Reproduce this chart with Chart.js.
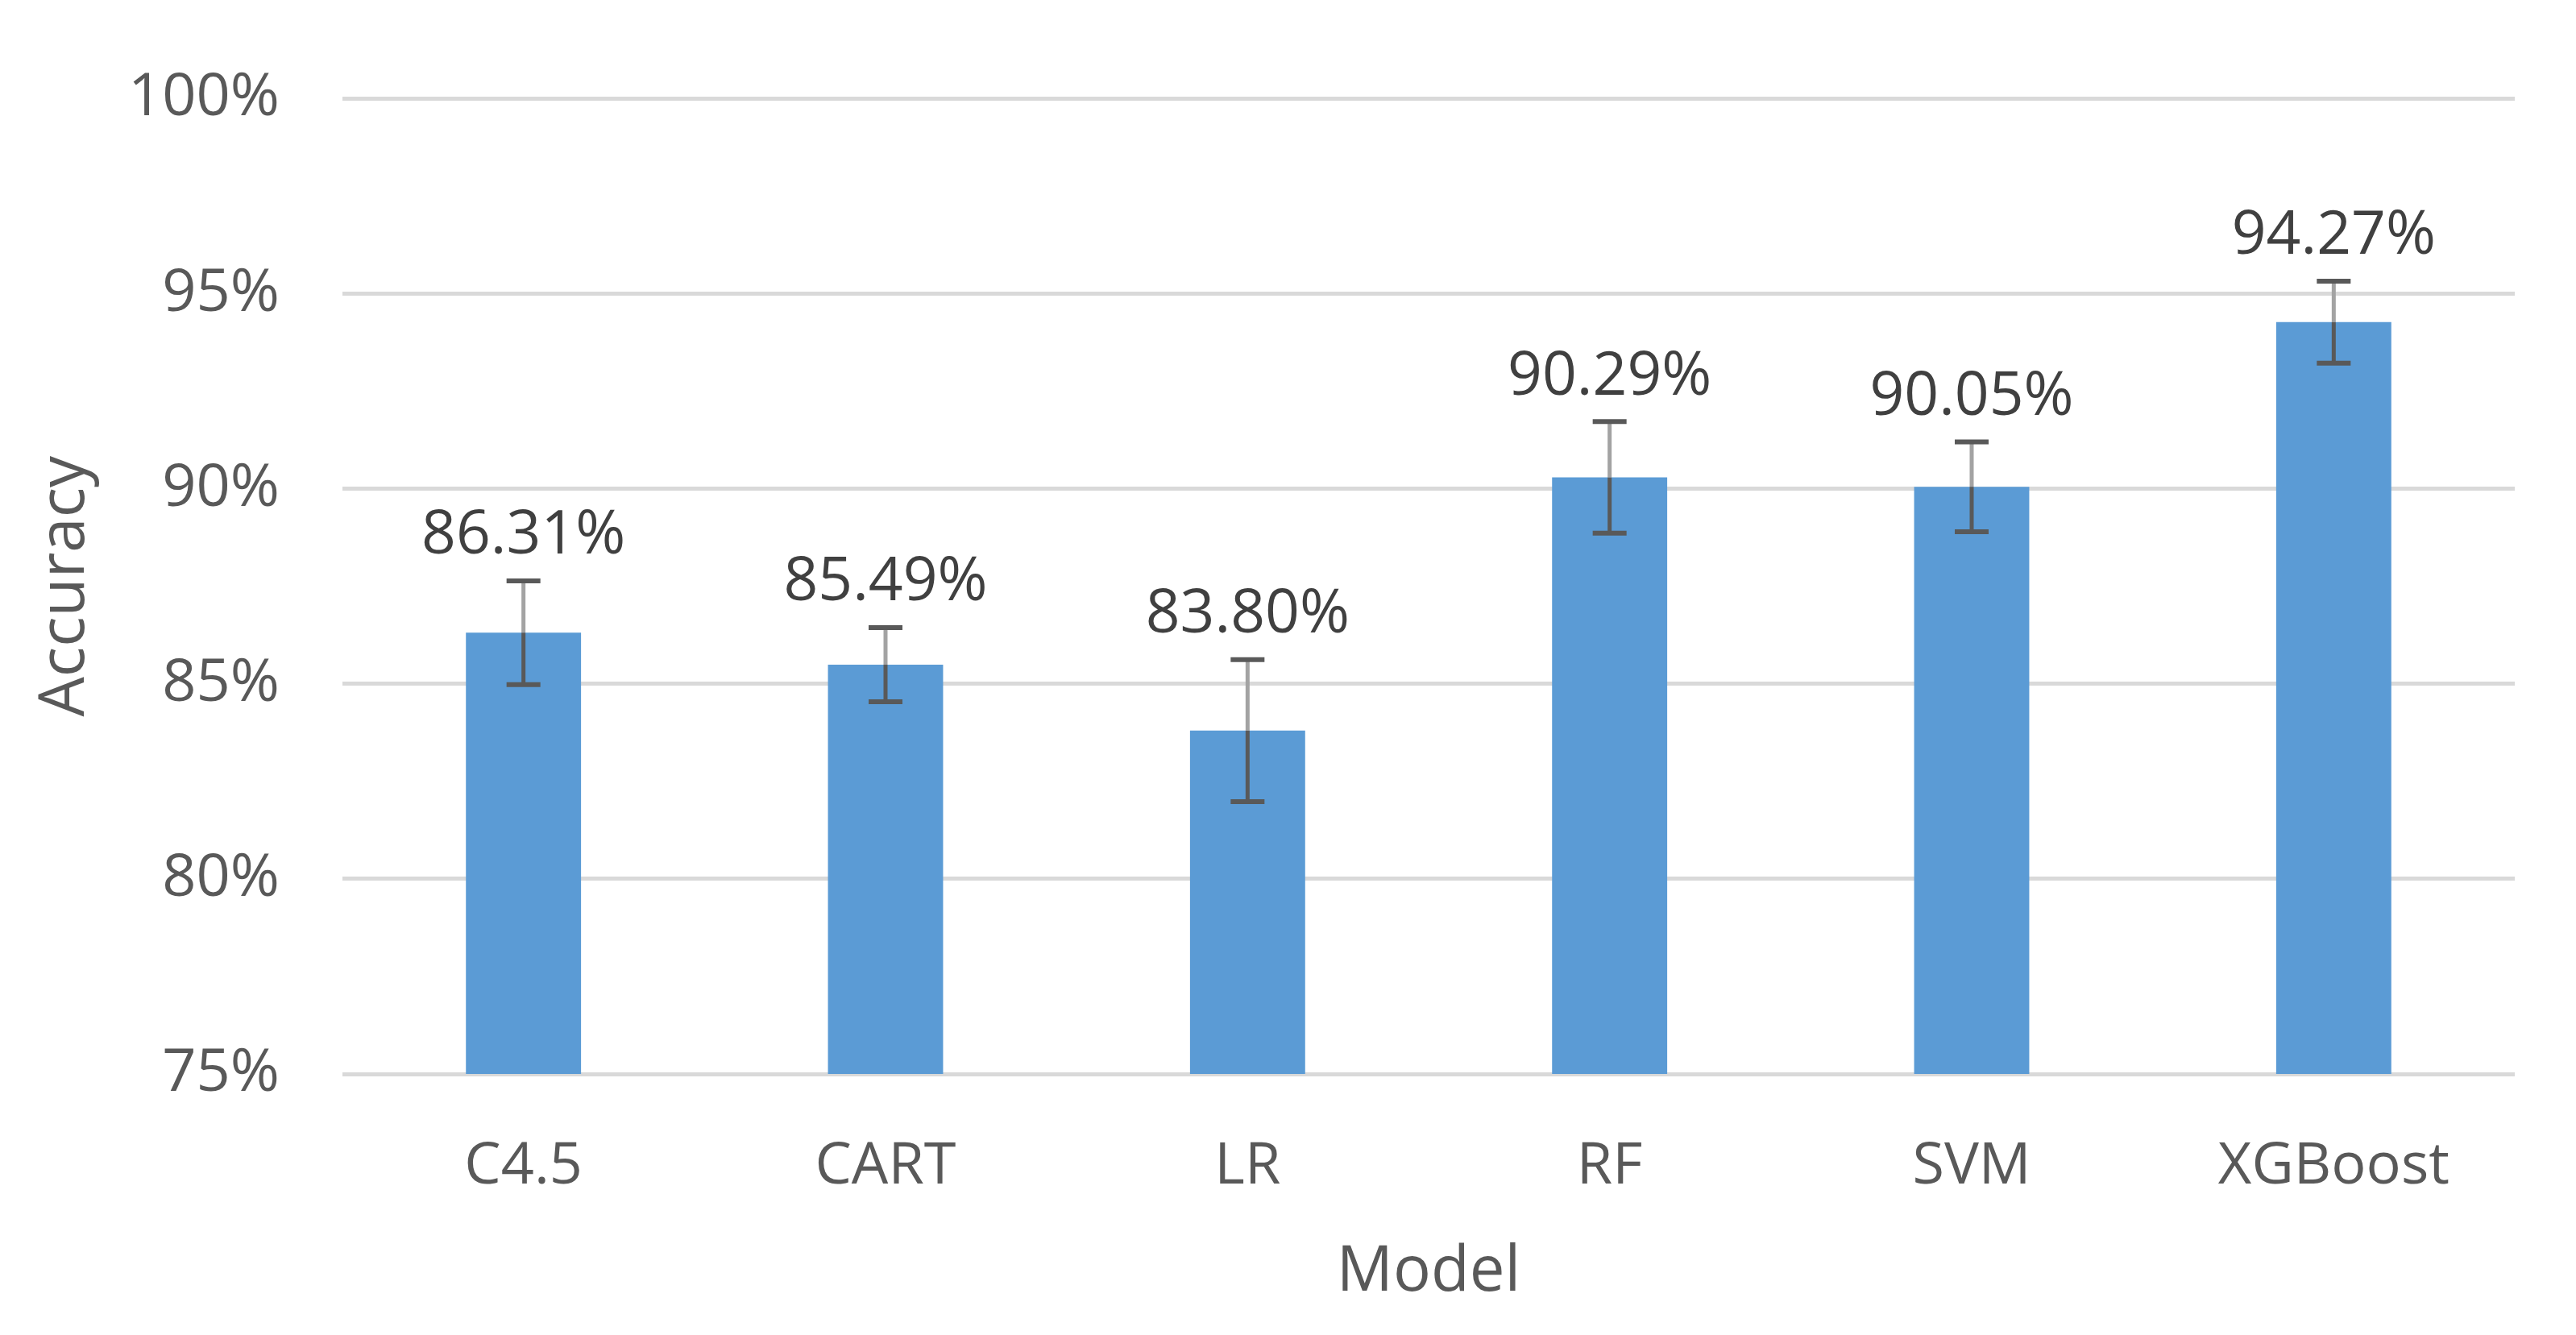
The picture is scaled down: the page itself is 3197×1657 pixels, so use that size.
<!DOCTYPE html>
<html>
<head>
<meta charset="utf-8">
<script src="https://cdn.jsdelivr.net/npm/chart.js@4"></script>
<style>
    html, body { margin: 0; padding: 0; background: #fff; }
    #wrap { width: 3197px; height: 1657px; }
</style>
</head>
<body>
<div id="wrap"><canvas id="accChart" width="3197" height="1657"></canvas></div>
<script>
// Chart data
const models = ['C4.5', 'CART', 'LR', 'RF', 'SVM', 'XGBoost'];
const accuracy = [86.31, 85.49, 83.80, 90.29, 90.05, 94.27];
const accuracyErr = [1.33, 0.95, 1.82, 1.43, 1.15, 1.05];
const yTicks = [75, 80, 85, 90, 95, 100];

const FONT = '"Open Sans", "DejaVu Sans", sans-serif';
const TEXT = '#595959';

// Error bars + value labels drawn on top of the bars
const errorBarPlugin = {
    id: 'errorBars',
    afterDatasetsDraw(chart) {
        const ctx = chart.ctx;
        const yScale = chart.scales.y;
        const meta = chart.getDatasetMeta(0);
        ctx.save();
        meta.data.forEach((bar, i) => {
            const x = bar.x;
            const yTop = yScale.getPixelForValue(accuracy[i] + accuracyErr[i]);
            const yBot = yScale.getPixelForValue(accuracy[i] - accuracyErr[i]);
            const yBar = bar.y;
            const cap = 21;

            // part of the whisker above the bar looks lighter
            ctx.lineWidth = 5;
            ctx.strokeStyle = '#a3a3a3';
            ctx.beginPath();
            ctx.moveTo(x, yTop);
            ctx.lineTo(x, yBar);
            ctx.stroke();

            ctx.strokeStyle = '#595959';
            ctx.beginPath();
            ctx.moveTo(x, yBar);
            ctx.lineTo(x, yBot);
            ctx.stroke();

            ctx.lineWidth = 6;
            ctx.beginPath();
            ctx.moveTo(x - cap, yTop);
            ctx.lineTo(x + cap, yTop);
            ctx.moveTo(x - cap, yBot);
            ctx.lineTo(x + cap, yBot);
            ctx.stroke();

            // value label
            ctx.fillStyle = '#404040';
            ctx.font = '75px ' + FONT;
            ctx.textAlign = 'center';
            ctx.textBaseline = 'middle';
            ctx.fillText(accuracy[i].toFixed(2) + '%', x, yTop - 55);
        });
        ctx.restore();
    }
};

const ctx = document.getElementById('accChart').getContext('2d');
new Chart(ctx, {
    type: 'bar',
    data: {
        labels: models,
        datasets: [{
            label: 'Accuracy',
            data: accuracy,
            backgroundColor: '#5b9bd5',
            borderWidth: 0,
            categoryPercentage: 1.0,
            barPercentage: 0.318
        }]
    },
    options: {
        responsive: false,
        animation: false,
        devicePixelRatio: 1,
        layout: {
            padding: { top: 122, right: 76, bottom: 0, left: 0 }
        },
        plugins: {
            legend: { display: false },
            tooltip: { enabled: false }
        },
        scales: {
            x: {
                grid: { display: false, drawTicks: false },
                border: { display: false },
                ticks: {
                    color: TEXT,
                    font: { family: FONT, size: 72 },
                    padding: 72,
                    maxRotation: 0
                },
                title: {
                    display: true,
                    text: 'Model',
                    color: TEXT,
                    font: { family: FONT, size: 78 },
                    padding: { top: 0, bottom: 30 }
                },
                afterFit: scale => { scale.height = 1657 - 1333; }
            },
            y: {
                min: 75,
                max: 100,
                afterBuildTicks: scale => {
                    scale.ticks = yTicks.map(v => ({ value: v }));
                },
                grid: { color: '#d9d9d9', lineWidth: 5, drawTicks: false },
                border: { display: false },
                ticks: {
                    color: TEXT,
                    font: { family: FONT, size: 74 },
                    padding: 78,
                    callback: v => v + '%'
                },
                title: {
                    display: true,
                    text: 'Accuracy',
                    color: TEXT,
                    font: { family: FONT, size: 78 },
                    padding: { top: 35, bottom: 0 }
                },
                afterFit: scale => { scale.width = 425; }
            }
        }
    },
    plugins: [errorBarPlugin]
});
</script>
</body>
</html>
